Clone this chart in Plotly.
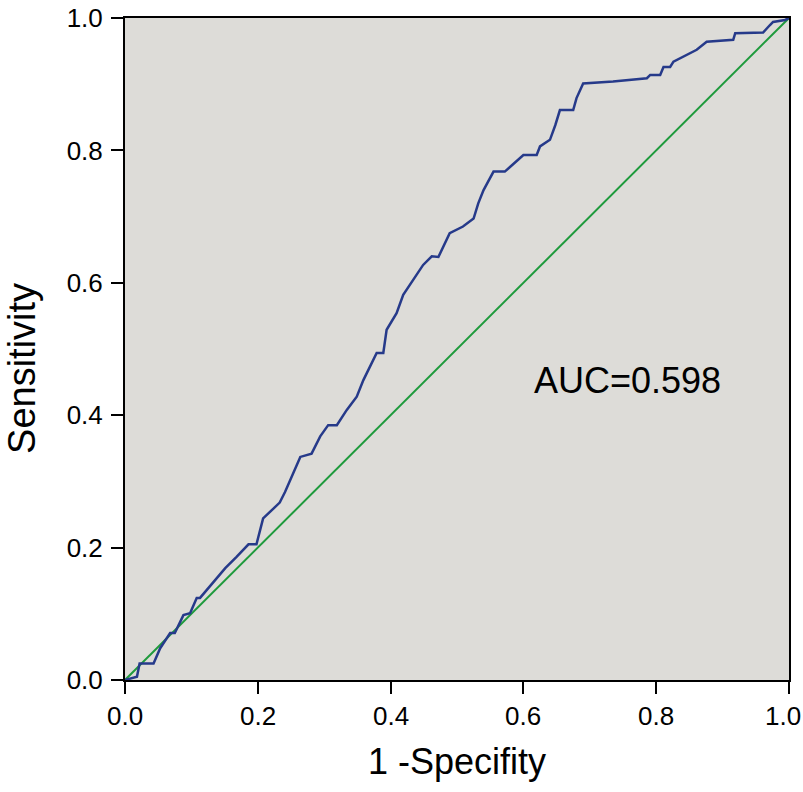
import plotly.graph_objects as go

# ROC curve points
fpr = [0.0, 0.018, 0.022, 0.043, 0.053, 0.068, 0.075, 0.088, 0.098, 0.108, 0.113,
       0.151, 0.168, 0.186, 0.198, 0.208, 0.233, 0.241, 0.264, 0.281, 0.294, 0.306,
       0.319, 0.334, 0.349, 0.359, 0.379, 0.389, 0.394, 0.409, 0.419, 0.434, 0.449,
       0.462, 0.472, 0.489, 0.509, 0.525, 0.532, 0.540, 0.555, 0.572, 0.590, 0.600,
       0.620, 0.625, 0.640, 0.648, 0.655, 0.675, 0.680, 0.690, 0.735, 0.786, 0.791,
       0.806, 0.811, 0.821, 0.826, 0.846, 0.861, 0.876, 0.916, 0.919, 0.961, 0.971,
       0.976, 0.994, 1.0]
tpr = [0.0, 0.005, 0.025, 0.025, 0.048, 0.071, 0.071, 0.098, 0.101, 0.124, 0.124,
       0.169, 0.186, 0.205, 0.205, 0.244, 0.268, 0.284, 0.337, 0.342, 0.368, 0.385,
       0.385, 0.408, 0.428, 0.453, 0.494, 0.494, 0.529, 0.554, 0.582, 0.604, 0.627,
       0.640, 0.639, 0.675, 0.685, 0.697, 0.720, 0.740, 0.768, 0.768, 0.785, 0.793,
       0.793, 0.806, 0.816, 0.838, 0.861, 0.861, 0.879, 0.901, 0.904, 0.909, 0.914,
       0.914, 0.926, 0.926, 0.934, 0.944, 0.952, 0.964, 0.967, 0.977, 0.978, 0.989,
       0.994, 0.997, 1.0]
ref_line = [0.0, 1.0]
tick_vals = [0.0, 0.2, 0.4, 0.6, 0.8, 1.0]
tick_text = ['0.0', '0.2', '0.4', '0.6', '0.8', '1.0']
auc_label = 'AUC=0.598'

FONT = 'Liberation Sans, Arial, sans-serif'

fig = go.Figure()

# reference diagonal
fig.add_trace(go.Scatter(
    x=ref_line, y=ref_line, mode='lines',
    line=dict(color='#1e9a3c', width=2),
    hoverinfo='skip'
))

# ROC curve
fig.add_trace(go.Scatter(
    x=fpr, y=tpr, mode='lines',
    line=dict(color='#263a8a', width=2.5)
))

fig.add_annotation(
    x=0.757, y=0.452, text=auc_label, showarrow=False,
    font=dict(family=FONT, size=36, color='black')
)

# y title as an annotation so it can sit a bit below the axis centre
fig.add_annotation(
    xref='paper', yref='paper', x=-0.155, y=0.47,
    xanchor='center', yanchor='middle',
    text='Sensitivity', textangle=-90, showarrow=False,
    font=dict(family=FONT, size=38, color='black')
)

# x tick labels drawn as annotations so the last one can be nudged inside the page
for val, txt in zip(tick_vals, tick_text):
    fig.add_annotation(
        x=val, xref='x', y=0, yref='paper',
        yanchor='top', yshift=-19, xshift=-6 if val == tick_vals[-1] else 0,
        text=txt, showarrow=False,
        font=dict(family=FONT, size=26, color='black')
    )

axis_style = dict(
    range=[0, 1],
    tickvals=tick_vals,
    ticktext=tick_text,
    showgrid=False,
    zeroline=False,
    showline=True,
    linecolor='black',
    linewidth=2,
    mirror=True,
    ticks='outside',
    ticklen=12,
    tickwidth=2,
    tickcolor='black',
    automargin=False,
    ticklabeloverflow='allow',
    tickfont=dict(family=FONT, size=26, color='black'),
)

fig.update_xaxes(**axis_style, showticklabels=False,
                 title=dict(text='1 -Specifity', font=dict(family=FONT, size=36, color='black'),
                            standoff=56))
fig.update_yaxes(**axis_style, ticklabelstandoff=3)

fig.update_layout(
    width=803,
    height=792,
    margin=dict(l=125, r=14, t=18, b=112),
    paper_bgcolor='white',
    plot_bgcolor='#dddcd8',
    showlegend=False,
)

# drop the default body margin so the figure fills the window exactly
fig.write_html("out.html", config={'displayModeBar': False},
               post_script="document.body.style.margin='0';")
